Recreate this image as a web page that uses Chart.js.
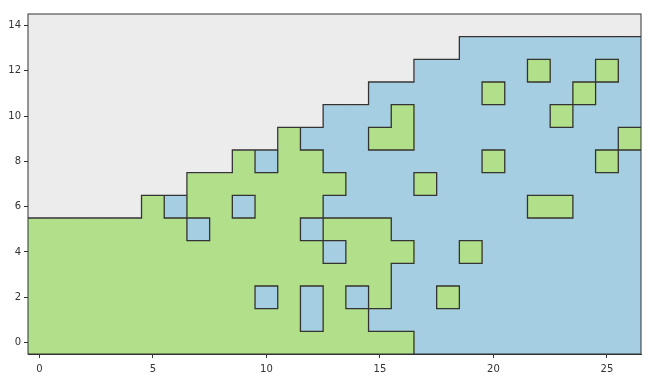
<!DOCTYPE html>
<html>
<head>
<meta charset="utf-8">
<script src="https://cdn.jsdelivr.net/npm/chart.js@4"></script>
<style>
  html, body { margin: 0; padding: 0; background: #fff; }
  #wrap { width: 650px; height: 380px; position: relative; }
</style>
</head>
<body>
<div id="wrap"><canvas id="chart"></canvas></div>
<script>
// cell levels, one string per row (index = y), 27 columns (x = 0..26)
// 0 = empty (grey), 1 = green, 2 = blue
const gridRows = [
    "11111 11111 11111 11222 22222 22",
    "11111 11111 11211 22222 22222 22",
    "11111 11111 21212 12212 22222 22",
    "11111 11111 11111 12222 22222 22",
    "11111 11111 11121 11221 22222 22",
    "11111 11211 11211 12222 22222 22",
    "00000 12112 11122 22222 22112 22",
    "00000 00111 11112 22122 22222 22",
    "00000 00001 21122 22222 12222 12",
    "00000 00000 01222 11222 22222 21",
    "00000 00000 00022 21222 22212 22",
    "00000 00000 00000 22222 12221 22",
    "00000 00000 00000 00222 22122 12",
    "00000 00000 00000 00002 22222 22",
    "00000 00000 00000 00000 00000 00"
];
const xTicks = [0, 5, 10, 15, 20, 25];
const yTicks = [0, 2, 4, 6, 8, 10, 12, 14];
const levelColors = ['#ececec', '#b2df8a', '#a6cee3'];

const grid = gridRows.map(r => r.replace(/ /g, '').split('').map(Number));
const nRows = grid.length;
const nCols = grid[0].length;

// one bar per vertical run of equal cells in a column
function barsForLevel(level) {
    const out = [];
    for (let c = 0; c < nCols; c++) {
        let start = null;
        for (let r = 0; r <= nRows; r++) {
            const hit = r < nRows && grid[r][c] === level;
            if (hit && start === null) start = r;
            if (!hit && start !== null) {
                out.push({ x: c, y: [start - 0.5, r - 0.5] });
                start = null;
            }
        }
    }
    return out;
}

// black edges wherever two neighbouring cells differ
function edgePoints() {
    const pts = [];
    // vertical edges
    for (let c = 0; c < nCols - 1; c++) {
        let start = null;
        for (let r = 0; r <= nRows; r++) {
            const diff = r < nRows && grid[r][c] !== grid[r][c + 1];
            if (diff && start === null) start = r;
            if (!diff && start !== null) {
                pts.push({ x: c + 0.5, y: start - 0.5 }, { x: c + 0.5, y: r - 0.5 }, { x: c + 0.5, y: null });
                start = null;
            }
        }
    }
    // horizontal edges
    for (let r = 0; r < nRows - 1; r++) {
        let start = null;
        for (let c = 0; c <= nCols; c++) {
            const diff = c < nCols && grid[r][c] !== grid[r + 1][c];
            if (diff && start === null) start = c;
            if (!diff && start !== null) {
                pts.push({ x: start - 0.5, y: r + 0.5 }, { x: c - 0.5, y: r + 0.5 }, { x: c - 0.5, y: null });
                start = null;
            }
        }
    }
    return pts;
}

const frame = {
    id: 'frame',
    afterDraw(chart) {
        const a = chart.chartArea;
        const ctx = chart.ctx;
        ctx.save();
        ctx.strokeStyle = '#333';
        ctx.lineWidth = 1;
        ctx.strokeRect(a.left, a.top, a.right - a.left, a.bottom - a.top);
        ctx.restore();
    }
};

const tickFont = { family: 'DejaVu Sans', size: 10 };

new Chart(document.getElementById('chart'), {
    type: 'bar',
    data: {
        datasets: [
            {
                type: 'line',
                data: edgePoints(),
                borderColor: '#333',
                borderWidth: 1.3,
                borderCapStyle: 'square',
                pointRadius: 0,
                fill: false,
                spanGaps: false,
                order: 0
            },
            ...levelColors.map((col, i) => ({
                data: barsForLevel(i),
                backgroundColor: col,
                borderWidth: 0,
                inflateAmount: 0.5,
                barPercentage: 1,
                categoryPercentage: 1,
                grouped: false,
                order: 1
            }))
        ]
    },
    options: {
        responsive: true,
        maintainAspectRatio: false,
        animation: false,
        events: [],
        layout: { padding: { left: 0, top: 14, right: 9, bottom: 0 } },
        plugins: { legend: { display: false }, tooltip: { enabled: false } },
        scales: {
            x: {
                type: 'linear',
                min: -0.5,
                max: 26.5,
                offset: false,
                afterBuildTicks: s => { s.ticks = xTicks.map(v => ({ value: v })); },
                afterFit: s => { s.height = 26; },
                grid: { offset: false, drawOnChartArea: false, drawTicks: true, tickLength: 4, color: '#333' },
                border: { display: true, color: '#333' },
                ticks: { color: '#333', font: tickFont, padding: 5, maxRotation: 0 }
            },
            y: {
                type: 'linear',
                min: -0.5,
                max: 14.5,
                afterBuildTicks: s => { s.ticks = yTicks.map(v => ({ value: v })); },
                afterFit: s => { s.width = 28; },
                grid: { drawOnChartArea: false, drawTicks: true, tickLength: 4, color: '#333' },
                border: { display: true, color: '#333' },
                ticks: { color: '#333', font: tickFont, padding: 3 }
            }
        }
    },
    plugins: [frame]
});
</script>
</body>
</html>
